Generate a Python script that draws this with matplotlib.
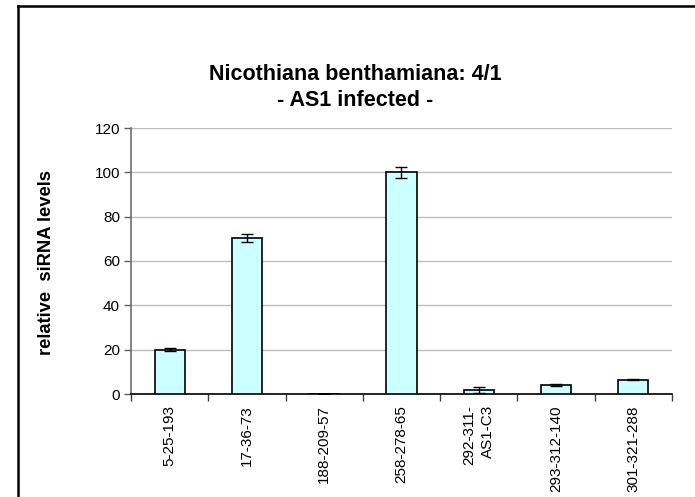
import numpy as np
import matplotlib
matplotlib.use("Agg")
import matplotlib.pyplot as plt
from matplotlib.lines import Line2D

# Data
samples = ['5-25-193', '17-36-73', '188-209-57', '258-278-65',
           '292-311-\nAS1-C3', '293-312-140', '301-321-288']
levels = [20.0, 70.5, 0.0, 100.0, 1.8, 3.9, 6.4]
errors = [0.8, 1.8, 0.0, 2.5, 1.5, 0.4, 0.3]
yticks = [0, 20, 40, 60, 80, 100, 120]

plt.rcParams['font.family'] = ['Liberation Sans', 'DejaVu Sans']

fig = plt.figure(figsize=(6.95, 4.97), dpi=100)
fig.set_facecolor('white')

# Axes placed in pixel positions of the reference
W, H = 695, 497
ax = fig.add_axes([131 / W, (H - 394) / H, 541 / W, 266 / H])

x = np.arange(len(samples))
ax.bar(x, levels, width=0.39, color='#CCFFFF', edgecolor='black',
       linewidth=1.2, zorder=3)
ax.errorbar(x, levels, yerr=errors, fmt='none', ecolor='black',
            elinewidth=1.0, capsize=4.5, capthick=1.0, zorder=4)

ax.set_xlim(-0.5, len(samples) - 0.5)
ax.set_ylim(0, 120)
ax.set_yticks(yticks)
ax.set_yticklabels([str(v) for v in yticks], fontsize=11)
ax.yaxis.grid(True, color='#BDBDBD', linewidth=1.0, zorder=0)
ax.set_axisbelow(True)

# Category labels at bar centres, tick marks at category boundaries
ax.set_xticks(x)
ax.set_xticklabels(samples, rotation=90, fontsize=11, multialignment='right',
                   linespacing=1.45)
ax.tick_params(axis='x', which='major', length=0, pad=8)
ax.set_xticks(np.arange(len(samples) + 1) - 0.5, minor=True)
ax.tick_params(axis='x', which='minor', length=5, width=1.0, color='#404040',
               direction='out')
ax.tick_params(axis='y', length=5, width=1.0, color='#606060', pad=3)

for side in ['top', 'right']:
    ax.spines[side].set_visible(False)
ax.spines['left'].set_color('#707070')
ax.spines['left'].set_linewidth(1.2)
ax.spines['bottom'].set_color('black')
ax.spines['bottom'].set_linewidth(1.2)

ax.set_ylabel('relative  siRNA levels', fontsize=13.2, fontweight='bold')
ax.yaxis.set_label_coords(-76 / 541, 0.496)

fig.text(355 / W, 1 - 74 / H, 'Nicothiana benthamiana: 4/1',
         ha='center', va='center', fontsize=15.5, fontweight='bold')
fig.text(355 / W, 1 - 100 / H, '- AS1 infected -',
         ha='center', va='center', fontsize=15.5, fontweight='bold')

# Chart frame (only top and left edges fall inside the picture)
fig.add_artist(Line2D([18 / W, 18 / W], [0, 1 - 6 / H], color='black',
                      linewidth=1.8, transform=fig.transFigure))
fig.add_artist(Line2D([18 / W, 1], [1 - 6 / H, 1 - 6 / H], color='black',
                      linewidth=1.8, transform=fig.transFigure))

fig.savefig('out.png', dpi=100)
